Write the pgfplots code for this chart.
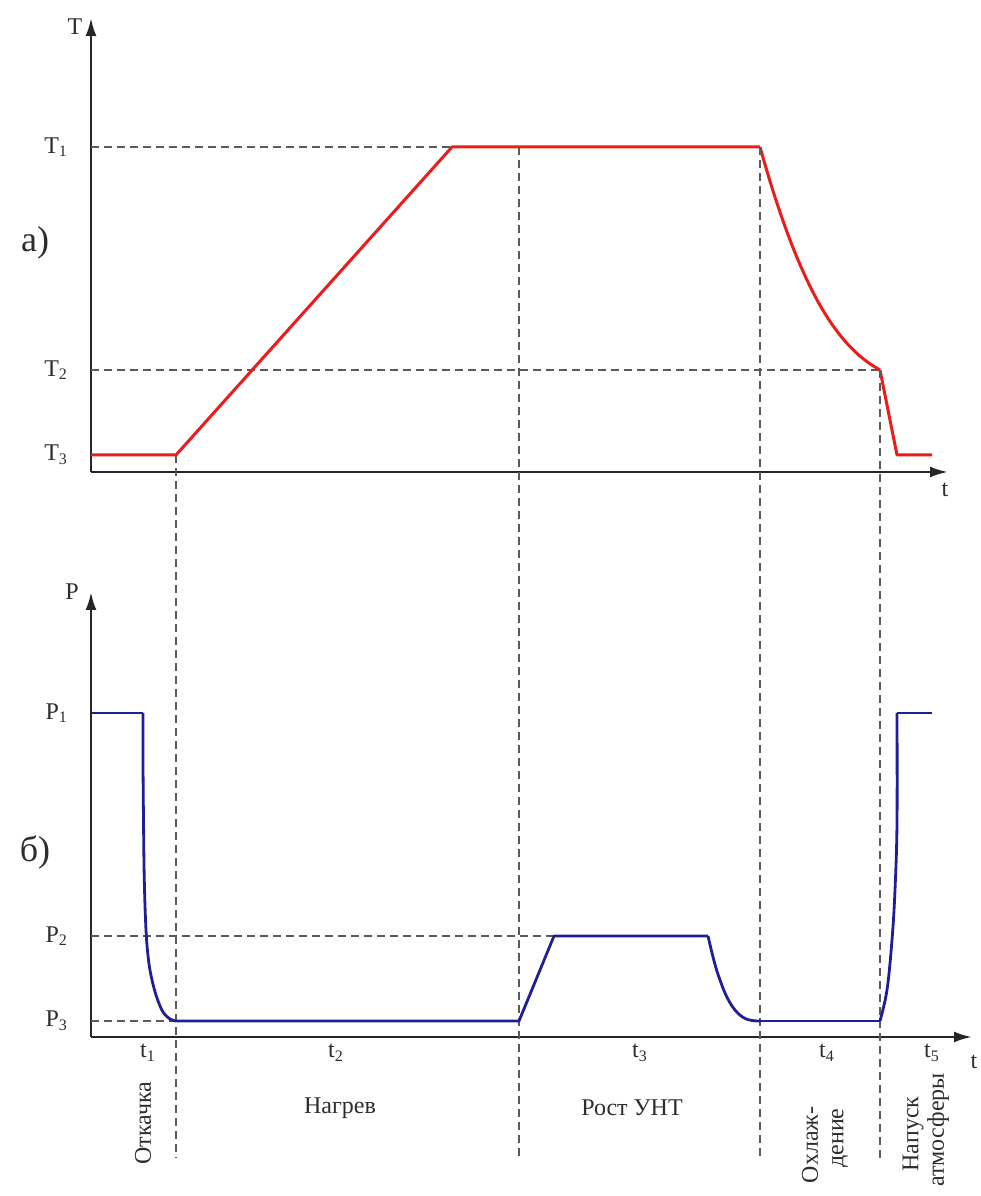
\documentclass[border=0pt]{standalone}
\usepackage{fontspec}
\setmainfont{Liberation Serif}
\usepackage{pgfplots}
\pgfplotsset{compat=1.18}
\usetikzlibrary{arrows.meta}
\definecolor{cred}{RGB}{235,28,28}
\definecolor{cblue}{RGB}{30,30,150}
\definecolor{cdash}{RGB}{90,90,90}
\definecolor{ctext}{RGB}{45,45,45}
\begin{document}
\begin{tikzpicture}[font=\fontsize{12}{14}\selectfont]
\useasboundingbox (0,0) rectangle (490.5pt,598pt);
\pgfplotsset{
  every axis/.append style={
    x=0.5pt, y=0.5pt,
    anchor=south west,
    axis x line=bottom, axis y line=left,
    axis line style={black!85, line width=1.3pt, -{Latex[length=9pt,width=5.5pt]}},
    clip=false,
    major tick length=0pt,
    tick style={draw=none},
    ticklabel style={text=ctext},
    yticklabel style={xshift=-8pt},
  },
  dashline/.style={cdash, line width=1pt, dash pattern=on 4pt off 2.5pt},
  redline/.style={cred, line width=1.5pt, line join=round},
  blueline/.style={cblue, line width=1.4pt, line join=round},
}
% ---------- top: temperature ----------
\begin{axis}[at={(45.5pt,362pt)},
  xmin=91, xmax=948, ymin=724, ymax=1178,
  xtick=\empty,
  ytick={741,826,1049},
  yticklabels={T\textsubscript{3},T\textsubscript{2},T\textsubscript{1}}]
\addplot[dashline] coordinates {(91,1049) (760,1049)};
\addplot[dashline] coordinates {(91,826) (880,826)};
\addplot[redline] coordinates {(91,741) (176,741) (452,1049) (760,1049)};
\addplot[redline, smooth, tension=0.5] coordinates {
  (760,1049) (770,1014.7) (780,983.8) (790,956) (800,931.4) (810,909.7)
  (820,890.8) (830,874.6) (840,860.9) (850,849.4) (860,839.9) (870,832.2) (880,826)};
\addplot[redline] coordinates {(880,826) (897,741) (932,741)};
\node[text=ctext] at (axis cs:75,1169) {T};
\node[text=ctext] at (axis cs:945,706) {t};
\node[text=ctext, font=\fontsize{18}{20}\selectfont] at (axis cs:35,953) {а)};
\end{axis}
% ---------- bottom: pressure ----------
\begin{axis}[at={(45.5pt,79.5pt)},
  xmin=91, xmax=972, ymin=159, ymax=604,
  xtick={148,336,640,827,932},
  xticklabels={t\textsubscript{1},t\textsubscript{2},t\textsubscript{3},t\textsubscript{4},t\textsubscript{5}},
  ytick={175,260,483},
  yticklabels={P\textsubscript{3},P\textsubscript{2},P\textsubscript{1}}]
\addplot[dashline] coordinates {(176,741) (176,38)};
\addplot[dashline] coordinates {(519,1049) (519,38)};
\addplot[dashline] coordinates {(760,1049) (760,38)};
\addplot[dashline] coordinates {(880,826) (880,38)};
\addplot[dashline] coordinates {(91,260) (554,260)};
\addplot[dashline] coordinates {(91,175) (176,175)};
\addplot[blueline] coordinates {(91,483) (143,483)};
\addplot[blueline, smooth, tension=0.6] coordinates {
  (143,483) (143,436) (143.5,376) (144.3,316) (146,266) (148.5,236)
  (152,216) (157,198) (163,184) (170,177) (176,175)};
\addplot[blueline] coordinates {(176,175) (519,175) (554,260) (708,260)};
\addplot[blueline, smooth, tension=0.5] coordinates {
  (708,260) (712,243) (716,228) (720,216) (724,205.3) (728,196.8) (732,190)
  (736,184.8) (740,180.9) (744,178.1) (748,176.4) (752,175.5) (756,175.1) (760,175)};
\addplot[blueline] coordinates {(760,175) (880,175)};
\addplot[blueline, smooth, tension=0.6] coordinates {
  (880,175) (887,206) (892,256) (895,306) (897,373) (897,483)};
\addplot[blueline] coordinates {(897,483) (932,483)};
\node[text=ctext] at (axis cs:72,604) {P};
\node[text=ctext] at (axis cs:974,134) {t};
\node[text=ctext, font=\fontsize{18}{20}\selectfont] at (axis cs:35,344) {б)};
\node[text=ctext, rotate=90] at (axis cs:143,73) {Откачка};
\node[text=ctext] at (axis cs:340,88) {Нагрев};
\node[text=ctext] at (axis cs:632,88) {Рост УНТ};
\node[text=ctext, rotate=90] at (axis cs:810,51) {Охлаж-};
\node[text=ctext, rotate=90] at (axis cs:840,58) {дение};
\node[text=ctext, rotate=90] at (axis cs:913,62) {Напуск};
\node[text=ctext, rotate=90] at (axis cs:938,66) {атмосферы};
\end{axis}
\end{tikzpicture}
\end{document}
